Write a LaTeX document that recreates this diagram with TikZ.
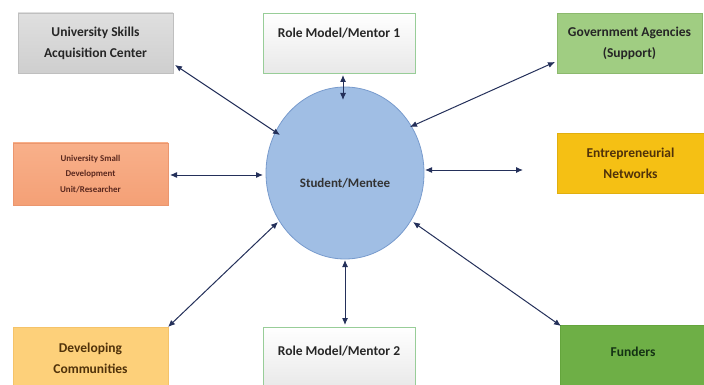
\documentclass[tikz,border=0pt]{standalone}
\usepackage{fontspec}
\setmainfont{Carlito}
\usetikzlibrary{arrows.meta,calc}
\definecolor{arr}{HTML}{24305A}
\tikzset{
  box/.style={rectangle, draw=#1!80!black, line width=0.6pt, align=center, font=\bfseries\fontsize{13.5}{21}\selectfont, text=black!85, inner sep=2pt},
  link/.style={draw=arr, line width=1pt, {Latex[length=7pt,width=6pt]}-{Latex[length=7pt,width=6pt]}},
}
\begin{document}
\begin{tikzpicture}[x=1pt,y=-1pt]
\useasboundingbox (0,0) rectangle (704,385);
% boxes
\node[box=gray, minimum width=155pt, minimum height=60pt, top color=gray!25, bottom color=gray!38, draw=gray!50] (usac) at (95.5,43) {University Skills\\Acquisition Center};
\node[box=gray, minimum width=152pt, minimum height=60pt, top color=white, bottom color=gray!18, draw=green!35!gray!60, text depth=20pt] (rm1) at (339,43) {Role Model/Mentor 1};
\node[box=gray, minimum width=145pt, minimum height=60pt, fill={rgb,255:red,160;green,205;blue,130}, draw={rgb,255:red,140;green,185;blue,110}] (gov) at (629.5,43) {Government Agencies\\(Support)};
\node[box=gray, minimum width=155pt, minimum height=62pt, top color={rgb,255:red,248;green,176;blue,138}, bottom color={rgb,255:red,244;green,160;blue,118}, draw={rgb,255:red,235;green,150;blue,110}, font=\bfseries\fontsize{8.9}{15.5}\selectfont, text={rgb,255:red,90;green,40;blue,30}] (usdu) at (90.5,174) {University Small\\Development\\Unit/Researcher};
\node[box=gray, minimum width=147pt, minimum height=60pt, fill={rgb,255:red,245;green,192;blue,20}, draw={rgb,255:red,225;green,175;blue,15}, text={rgb,255:red,80;green,50;blue,10}] (ent) at (630.5,163) {Entrepreneurial\\Networks};
\node[box=gray, minimum width=155pt, minimum height=62pt, fill={rgb,255:red,253;green,208;blue,122}, draw={rgb,255:red,245;green,195;blue,105}, text={rgb,255:red,80;green,50;blue,10}] (dev) at (90.5,358) {Developing\\Communities};
\node[box=gray, minimum width=152pt, minimum height=62pt, top color=white, bottom color=gray!18, draw=green!35!gray!60, text depth=14pt] (rm2) at (339,358) {Role Model/Mentor 2};
\node[box=gray, minimum width=145pt, minimum height=64pt, fill={rgb,255:red,110;green,175;blue,70}, draw={rgb,255:red,100;green,165;blue,60}, text={rgb,255:red,20;green,50;blue,20}, text depth=10pt] (fund) at (633,357) {Funders};
% centre ellipse
\draw[fill={rgb,255:red,160;green,190;blue,228}, draw={rgb,255:red,120;green,155;blue,205}, line width=0.8pt] (345,173) ellipse [x radius=79, y radius=86];
\node[font=\bfseries\fontsize{13}{15}\selectfont, text=black!80] (stu) at (345,183) {Student/Mentee};
% connector end points
\coordinate (c1) at (280,135);
\coordinate (c2) at (343,100);
\coordinate (r1) at (343,75);
\coordinate (c3) at (410,127);
\coordinate (c4) at (263,175);
\coordinate (s1) at (170,175);
\coordinate (c5) at (425,170);
\coordinate (e5) at (523,170);
\coordinate (c6) at (278,222);
\coordinate (c7) at (345,260);
\coordinate (r2) at (345,325);
\coordinate (c8) at (413,222);
\coordinate (u1) at (175,65);
\coordinate (g1) at (555,62);
\coordinate (d1) at (168,327);
\coordinate (f1) at (561,326);
\draw[link] (u1) -- (c1);
\draw[link] (r1) -- (c2);
\draw[link] (g1) -- (c3);
\draw[link] (s1) -- (c4);
\draw[link] (c5) -- (e5);
\draw[link] (d1) -- (c6);
\draw[link] (c7) -- (r2);
\draw[link] (c8) -- (f1);
\end{tikzpicture}
\end{document}
